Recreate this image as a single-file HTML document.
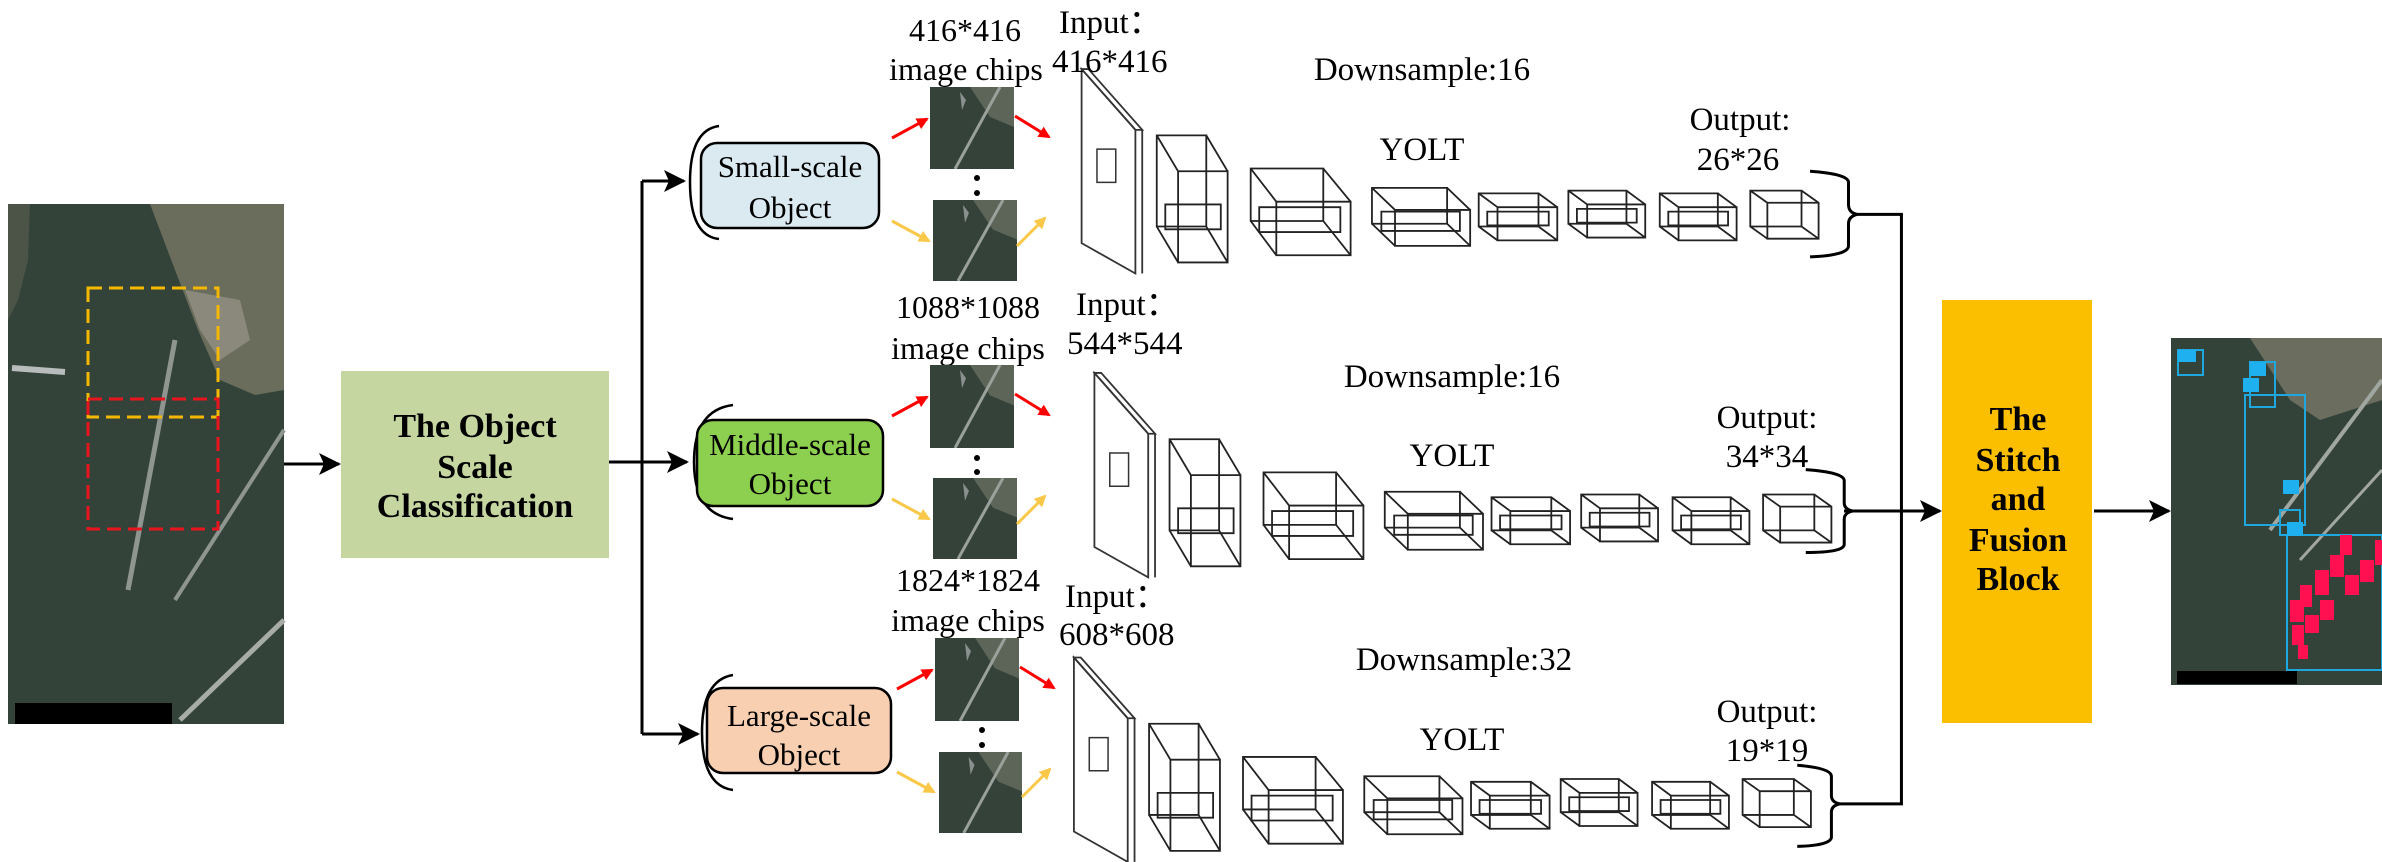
<!DOCTYPE html>
<html><head><meta charset="utf-8"><style>
html,body{margin:0;padding:0;background:#fff;}
svg{display:block;}
text{font-family:"Liberation Serif",serif;fill:#000;}
</style></head><body>
<svg width="2382" height="862" viewBox="0 0 2382 862" xmlns="http://www.w3.org/2000/svg">
<defs>
<marker id="ab" markerWidth="10" markerHeight="10" refX="9" refY="5" orient="auto" markerUnits="userSpaceOnUse"><path d="M0,0 L10,5 L0,10 z" fill="#000"/></marker>
<marker id="ar" markerWidth="12" markerHeight="12" refX="10" refY="6" orient="auto" markerUnits="userSpaceOnUse"><path d="M0,0 L12,6 L0,12 z" fill="#f00"/></marker>
<marker id="ay" markerWidth="12" markerHeight="12" refX="10" refY="6" orient="auto" markerUnits="userSpaceOnUse"><path d="M0,0 L12,6 L0,12 z" fill="#f9c848"/></marker>
<marker id="abig" markerWidth="22" markerHeight="22" refX="20" refY="11" orient="auto" markerUnits="userSpaceOnUse"><path d="M0,0 L22,11 L0,22 L5,11 z" fill="#000"/></marker>
<symbol id="chip" viewBox="0 0 84 82" preserveAspectRatio="none">
<rect width="84" height="82" fill="#34423a"/>
<path d="M40,0 L84,0 L84,40 L60,30 Z" fill="#5d6558"/>
<line x1="70" y1="0" x2="25" y2="82" stroke="#9aa09a" stroke-width="3"/>
<path d="M30,5 l6,8 l-4,10 z" fill="#8a9090"/>
</symbol>
<g id="row1">
<polygon points="37,125 100,235 100,495 37,440" fill="none" stroke="#333" stroke-width="1.8" vector-effect="non-scaling-stroke"/>
<polygon points="45,125 108,235 100,235 37,125" fill="none" stroke="#333" stroke-width="1.8" vector-effect="non-scaling-stroke"/>
<line x1="108" y1="235" x2="108" y2="495" stroke="#333" stroke-width="1.8" vector-effect="non-scaling-stroke"/>
<rect x="55" y="270" width="22" height="60" fill="none" stroke="#333" stroke-width="1.5" vector-effect="non-scaling-stroke"/>
<g fill="none" stroke="#222" stroke-width="1.8">
<path vector-effect="non-scaling-stroke" d="M125,245 H183 V410 H125 Z M150,310 H208 V475 H150 Z M125,245 L150,310 M183,245 L208,310 M183,410 L208,475 M125,410 L150,475"/>
<rect vector-effect="non-scaling-stroke" x="135" y="370" width="65" height="45"/>
<path vector-effect="non-scaling-stroke" d="M235,305 H320 V400 H235 Z M265,365 H352 V462 H265 Z M235,305 L265,365 M320,305 L352,365 M320,400 L352,462 M235,400 L265,462"/>
<rect vector-effect="non-scaling-stroke" x="245" y="375" width="95" height="45"/>
<path vector-effect="non-scaling-stroke" d="M377,340 H465 V405 H377 Z M404,380 H492 V445 H404 Z M377,340 L404,380 M465,340 L492,380 M465,405 L492,445 M377,405 L404,445"/>
<rect vector-effect="non-scaling-stroke" x="388" y="383" width="92" height="35"/>
<path vector-effect="non-scaling-stroke" d="M502,350 H572 V410 H502 Z M524,375 H594 V435 H524 Z M502,350 L524,375 M572,350 L594,375 M572,410 L594,435 M502,410 L524,435"/>
<rect vector-effect="non-scaling-stroke" x="512" y="383" width="72" height="25"/>
<path vector-effect="non-scaling-stroke" d="M607,345 H675 V405 H607 Z M629,370 H697 V430 H629 Z M607,345 L629,370 M675,345 L697,370 M675,405 L697,430 M607,405 L629,430"/>
<rect vector-effect="non-scaling-stroke" x="617" y="378" width="70" height="25"/>
<path vector-effect="non-scaling-stroke" d="M714,350 H782 V410 H714 Z M736,375 H804 V435 H736 Z M714,350 L736,375 M782,350 L804,375 M782,410 L804,435 M714,410 L736,435"/>
<rect vector-effect="non-scaling-stroke" x="724" y="383" width="70" height="25"/>
<path vector-effect="non-scaling-stroke" d="M820,345 H880 V410 H820 Z M820,345 L840,367 M880,345 L900,367 H900 V432 H840 V367 H900 M880,410 L900,432 M820,410 L840,432"/>
</g>
</g>
</defs>

<!-- satellite left -->
<rect x="8" y="204" width="276" height="520" fill="#34433a"/>
<path d="M150,204 L284,204 L284,390 L255,395 L220,380 L198,330 L172,262 Z" fill="#6a6d5c"/>
<path d="M185,290 L240,300 L250,340 L220,360 L200,330 Z" fill="#8a897b"/>
<path d="M8,204 L30,204 L28,260 L18,300 L8,320 Z" fill="#4c5347"/>
<line x1="12" y1="368" x2="65" y2="372" stroke="#b8bcbc" stroke-width="6"/>
<line x1="175" y1="340" x2="128" y2="590" stroke="#8f9590" stroke-width="5"/>
<line x1="284" y1="430" x2="175" y2="600" stroke="#8f9590" stroke-width="4"/>
<line x1="284" y1="620" x2="180" y2="720" stroke="#a8aca8" stroke-width="5"/>
<rect x="15" y="703" width="157" height="21" fill="#000"/>
<rect x="88" y="288" width="130" height="129" fill="none" stroke="#f5b800" stroke-width="3" stroke-dasharray="14,7"/>
<rect x="88" y="399" width="130" height="130" fill="none" stroke="#e8141e" stroke-width="3" stroke-dasharray="14,7"/>

<line x1="284" y1="464" x2="339" y2="464" stroke="#000" stroke-width="3" marker-end="url(#abig)"/>

<rect x="341" y="371" width="268" height="187" fill="#c5d6a0"/>
<g font-weight="bold" font-size="34" text-anchor="middle">
<text x="475" y="437">The Object</text>
<text x="475" y="478">Scale</text>
<text x="475" y="517">Classification</text>
</g>

<g stroke="#000" stroke-width="3" fill="none">
<line x1="609" y1="462" x2="642" y2="462"/>
<line x1="642" y1="181" x2="642" y2="734"/>
<line x1="642" y1="181" x2="684" y2="181" marker-end="url(#abig)"/>
<line x1="642" y1="462" x2="687" y2="462" marker-end="url(#abig)"/>
<line x1="642" y1="734" x2="698" y2="734" marker-end="url(#abig)"/>
<path d="M719,126 Q690,130 690,182 Q690,236 719,239" stroke-width="2.5"/>
<path d="M733,405 Q694,410 694,462 Q694,514 733,519" stroke-width="2.5"/>
<path d="M733,675 Q702,680 702,732 Q702,786 733,790" stroke-width="2.5"/>
</g>

<rect x="701" y="143" width="178" height="85" rx="16" fill="#dbeaf1" stroke="#000" stroke-width="2.5"/>
<rect x="697" y="420" width="186" height="86" rx="16" fill="#8dd04f" stroke="#000" stroke-width="2.5"/>
<rect x="707" y="688" width="184" height="85" rx="16" fill="#f8cfb0" stroke="#000" stroke-width="2.5"/>
<g font-size="31" text-anchor="middle">
<text x="790" y="177">Small-scale</text><text x="790" y="218">Object</text>
<text x="790" y="455">Middle-scale</text><text x="790" y="494">Object</text>
<text x="799" y="726">Large-scale</text><text x="799" y="765">Object</text>
</g>

<g font-size="32" text-anchor="middle">
<text x="965" y="41">416*416</text><text x="966" y="80">image chips</text>
<text x="968" y="318">1088*1088</text><text x="968" y="359">image chips</text>
<text x="968" y="591">1824*1824</text><text x="968" y="631">image chips</text>
</g>

<g>
<use href="#chip" x="930" y="87" width="84" height="82"/>
<use href="#chip" x="933" y="200" width="84" height="81"/>
<circle cx="977" cy="178" r="3" fill="#000"/><circle cx="977" cy="193" r="3" fill="#000"/>
<use href="#chip" x="930" y="365" width="84" height="83"/>
<use href="#chip" x="933" y="478" width="84" height="81"/>
<circle cx="977" cy="458" r="3" fill="#000"/><circle cx="977" cy="472" r="3" fill="#000"/>
<use href="#chip" x="935" y="638" width="84" height="83"/>
<use href="#chip" x="939" y="752" width="83" height="81"/>
<circle cx="982" cy="730" r="3" fill="#000"/><circle cx="982" cy="745" r="3" fill="#000"/>
</g>
<g stroke-width="3">
<line x1="892" y1="138" x2="927" y2="119" stroke="#f00" marker-end="url(#ar)"/>
<line x1="1015" y1="116" x2="1049" y2="137" stroke="#f00" marker-end="url(#ar)"/>
<line x1="892" y1="221" x2="929" y2="241" stroke="#f9c848" marker-end="url(#ay)"/>
<line x1="1017" y1="246" x2="1045" y2="218" stroke="#f9c848" marker-end="url(#ay)"/>
<line x1="892" y1="416" x2="927" y2="397" stroke="#f00" marker-end="url(#ar)"/>
<line x1="1015" y1="394" x2="1049" y2="415" stroke="#f00" marker-end="url(#ar)"/>
<line x1="892" y1="499" x2="929" y2="519" stroke="#f9c848" marker-end="url(#ay)"/>
<line x1="1017" y1="524" x2="1045" y2="496" stroke="#f9c848" marker-end="url(#ay)"/>
<line x1="897" y1="689" x2="932" y2="670" stroke="#f00" marker-end="url(#ar)"/>
<line x1="1020" y1="667" x2="1054" y2="688" stroke="#f00" marker-end="url(#ar)"/>
<line x1="897" y1="772" x2="934" y2="792" stroke="#f9c848" marker-end="url(#ay)"/>
<line x1="1022" y1="797" x2="1050" y2="769" stroke="#f9c848" marker-end="url(#ay)"/>
</g>

<g transform="translate(1050,0) scale(0.854,0.5525)">
<use href="#row1"/>
<use href="#row1" transform="translate(15,550)"/>
<use href="#row1" transform="translate(-9,1065)"/>
<g fill="none" stroke="#000" stroke-width="3">
<path vector-effect="non-scaling-stroke" d="M890,310 Q935,315 935,330 V370 Q935,385 945,388 Q935,392 935,405 V445 Q935,462 890,465"/>
<path vector-effect="non-scaling-stroke" d="M885,850 Q930,855 930,870 V910 Q930,922 940,925 Q930,928 930,940 V985 Q930,1000 885,1000"/>
<path vector-effect="non-scaling-stroke" d="M875,1385 Q915,1390 915,1405 V1440 Q915,1452 925,1455 Q915,1458 915,1470 V1515 Q915,1530 875,1532"/>
<path vector-effect="non-scaling-stroke" d="M945,388 H997 V1455 H925"/>
</g>
</g>
<line x1="1844" y1="511" x2="1940" y2="511" stroke="#000" stroke-width="3" marker-end="url(#abig)"/>

<g font-size="33">
<text x="1059" y="33">Input：</text><text x="1052" y="72">416*416</text>
<text x="1076" y="315">Input：</text><text x="1067" y="354">544*544</text>
<text x="1065" y="607">Input：</text><text x="1059" y="645">608*608</text>
</g>
<g font-size="33" text-anchor="middle">
<text x="1422" y="80">Downsample:16</text><text x="1422" y="160">YOLT</text>
<text x="1740" y="130">Output:</text><text x="1738" y="170">26*26</text>
<text x="1452" y="387">Downsample:16</text><text x="1452" y="466">YOLT</text>
<text x="1767" y="428">Output:</text><text x="1767" y="467">34*34</text>
<text x="1464" y="670">Downsample:32</text><text x="1462" y="750">YOLT</text>
<text x="1767" y="722">Output:</text><text x="1767" y="761">19*19</text>
</g>

<rect x="1942" y="300" width="150" height="423" fill="#fbbf00"/>
<g font-weight="bold" font-size="34" text-anchor="middle">
<text x="2018" y="430">The</text><text x="2018" y="471">Stitch</text><text x="2018" y="510">and</text><text x="2018" y="551">Fusion</text><text x="2018" y="590">Block</text>
</g>
<line x1="2094" y1="511" x2="2169" y2="511" stroke="#000" stroke-width="3" marker-end="url(#abig)"/>

<rect x="2171" y="338" width="211" height="347" fill="#34433a"/>
<path d="M2250,338 L2382,338 L2382,400 L2320,420 L2290,400 Z" fill="#6b6e5e"/>
<line x1="2382" y1="380" x2="2270" y2="530" stroke="#a0a6a0" stroke-width="4"/>
<line x1="2382" y1="470" x2="2300" y2="560" stroke="#a0a6a0" stroke-width="3"/>
<g fill="none" stroke="#1fa8e0" stroke-width="2">
<rect x="2178" y="350" width="25" height="25"/><rect x="2250" y="362" width="25" height="45"/>
<rect x="2245" y="395" width="60" height="130"/><rect x="2287" y="535" width="95" height="135"/>
<rect x="2280" y="510" width="20" height="25"/>
</g>
<g fill="#1fb0f0"><rect x="2178" y="350" width="18" height="12"/><rect x="2250" y="362" width="16" height="14"/><rect x="2243" y="378" width="16" height="14"/><rect x="2283" y="480" width="16" height="14"/><rect x="2287" y="522" width="16" height="14"/></g>
<g fill="#ff1050">
<rect x="2340" y="535" width="12" height="20"/><rect x="2330" y="555" width="14" height="22"/><rect x="2315" y="570" width="14" height="25"/>
<rect x="2300" y="585" width="12" height="22"/><rect x="2290" y="600" width="14" height="22"/><rect x="2292" y="625" width="12" height="20"/>
<rect x="2320" y="600" width="14" height="20"/><rect x="2345" y="575" width="14" height="20"/><rect x="2360" y="560" width="14" height="22"/>
<rect x="2375" y="540" width="7" height="25"/><rect x="2305" y="615" width="14" height="18"/><rect x="2298" y="645" width="10" height="14"/>
</g>
<rect x="2177" y="671" width="120" height="13" fill="#000"/>
</svg>
</body></html>
